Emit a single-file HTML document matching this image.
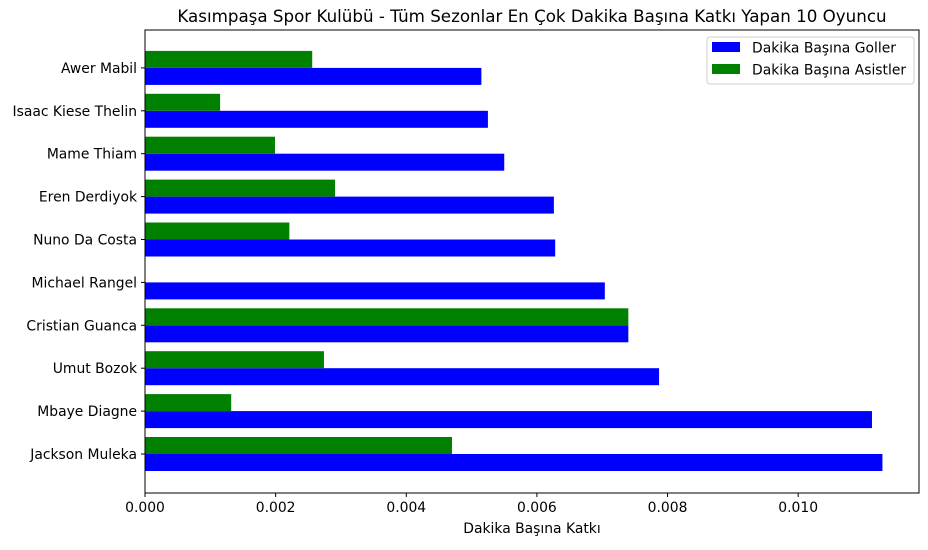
<!DOCTYPE html>
<html><head><meta charset="utf-8">
<style>
body{margin:0;background:#fff;font-family:"Liberation Sans","DejaVu Sans",sans-serif;}
svg text{font-family:"DejaVu Sans","Liberation Sans",sans-serif;}
</style></head>
<body>
<svg id="chart" width="928" height="545"></svg>
<script>
const players=["Jackson Muleka","Mbaye Diagne","Umut Bozok","Cristian Guanca","Michael Rangel","Nuno Da Costa","Eren Derdiyok","Mame Thiam","Isaac Kiese Thelin","Awer Mabil"];
const goals=[0.01129,0.01113,0.00787,0.00740,0.00704,0.00628,0.00626,0.00550,0.00525,0.00515];
const assists=[0.00470,0.00132,0.00274,0.00740,0,0.00221,0.00291,0.00199,0.00115,0.00256];
const xTicks=[0,0.002,0.004,0.006,0.008,0.010];
const xTickLabels=["0.000","0.002","0.004","0.006","0.008","0.010"];

const NS="http://www.w3.org/2000/svg";
const svg=document.getElementById('chart');
const L=145,R=919,T=30,B=493;
const xMax=0.01185;
const x=v=>L+v/xMax*(R-L);
const y0=454,step=42.9,bh=17;
const y=i=>y0-i*step;
const FS=13.9;
function mk(tag,attrs,parent){const e=document.createElementNS(NS,tag);for(const k in attrs)e.setAttribute(k,attrs[k]);(parent||svg).appendChild(e);return e;}

const title=mk('text',{x:532,y:22,'text-anchor':'middle','font-size':16.7});


title.textContent="Kasımpaşa Spor Kulübü - Tüm Sezonlar En Çok Dakika Başına Katkı Yapan 10 Oyuncu";

players.forEach((p,i)=>{
  const b=mk('rect',{x:L,y:y(i),width:x(goals[i])-L,height:bh,fill:'#0000ff'});
  
  
  const a=mk('rect',{x:L,y:y(i)-bh,width:x(assists[i])-L,height:bh,fill:'#008000'});
  
  
  mk('line',{x1:L-4,x2:L,y1:y(i),y2:y(i),stroke:'#000'});
  const t=mk('text',{x:L-8,y:y(i)+5,'text-anchor':'end','font-size':FS});
  
  
  t.textContent=p;
});
xTicks.forEach((v,i)=>{
  mk('line',{x1:x(v),x2:x(v),y1:B,y2:B+4,stroke:'#000'});
  const t=mk('text',{x:x(v),y:B+19,'text-anchor':'middle','font-size':FS});
  
  
  t.textContent=xTickLabels[i];
});
const frame=mk('rect',{x:L,y:T,width:R-L,height:B-T,fill:'none',stroke:'#000','stroke-width':1});


const xl=mk('text',{x:(L+R)/2,y:533,'text-anchor':'middle','font-size':FS});


xl.textContent="Dakika Başına Katkı";

const lg=mk('g',{});


mk('rect',{x:707,y:37,width:207,height:47,fill:'#fff',stroke:'#ccc',rx:3},lg);
mk('rect',{x:712,y:42,width:28,height:10,fill:'#0000ff'},lg);
const l1=mk('text',{x:752,y:52.5,'font-size':FS},lg);l1.textContent="Dakika Başına Goller";
mk('rect',{x:712,y:64,width:28,height:10,fill:'#008000'},lg);
const l2=mk('text',{x:752,y:74.5,'font-size':FS},lg);l2.textContent="Dakika Başına Asistler";
</script>
</body></html>
